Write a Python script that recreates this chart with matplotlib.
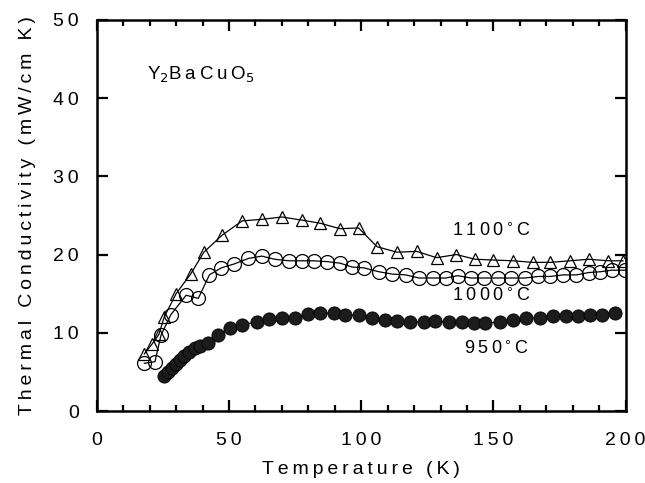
import matplotlib.pyplot as plt
from matplotlib.ticker import MultipleLocator

plt.rcParams["font.family"] = ["Liberation Sans", "DejaVu Sans"]

# 1100 C sample (open triangles)
t_1100 = [18, 21, 23.5, 25.5, 30, 35.5, 40.5, 47.5, 55, 62.5, 70, 77.5, 84.5,
          92, 99, 106, 113.5, 121, 128.5, 136, 143, 150, 157.5, 165, 171.5,
          179, 186, 193.5, 199]
k_1100 = [7.3, 8.6, 9.8, 12.0, 15.0, 17.5, 20.3, 22.5, 24.3, 24.5, 24.8, 24.4,
          24.0, 23.3, 23.4, 21.0, 20.3, 20.4, 19.6, 20.0, 19.4, 19.3, 19.2,
          19.0, 19.0, 19.2, 19.4, 19.2, 19.2]

# 1000 C sample (open circles)
t_1000 = [18, 22, 24.3, 28, 33.8, 38.4, 42.6, 47.1, 52, 57.3, 62.4, 67.3, 72.6,
          77.5, 82, 87, 92, 96.6, 101, 106.7, 111.8, 116.8, 121.9, 127, 132,
          136.5, 141.5, 146.6, 151.7, 156.5, 161.9, 167, 171.4, 176.4, 181.4,
          186, 190.4, 194.7, 199.9]
k_1000 = [6.1, 6.3, 9.7, 12.3, 14.8, 14.4, 17.4, 18.3, 18.8, 19.5, 19.8, 19.4,
          19.2, 19.2, 19.2, 19.1, 18.9, 18.4, 18.3, 17.8, 17.5, 17.4, 17.0,
          17.0, 17.0, 17.3, 17.0, 17.0, 17.0, 17.0, 17.0, 17.2, 17.2, 17.4,
          17.4, 17.7, 17.8, 18.0, 18.0]

# 950 C sample (filled circles)
t_950 = [25.5, 27, 28.5, 30, 31.5, 33, 35, 37, 39, 42, 46, 50.2, 54.8, 60.5,
         65, 70, 75, 80, 84.5, 89.6, 94, 99, 104, 109, 113.7, 118.6, 123.8,
         128, 133.3, 138, 142.8, 147, 152.3, 157.4, 162.4, 167.6, 172.6, 177.6,
         182, 186.6, 190.9, 196]
k_950 = [4.5, 5.0, 5.5, 6.0, 6.5, 7.0, 7.5, 8.0, 8.3, 8.7, 9.7, 10.6, 11.0,
         11.4, 11.8, 11.9, 11.9, 12.4, 12.5, 12.5, 12.3, 12.3, 11.9, 11.6,
         11.5, 11.4, 11.4, 11.5, 11.4, 11.4, 11.2, 11.2, 11.4, 11.6, 11.9,
         11.9, 12.1, 12.1, 12.1, 12.3, 12.3, 12.5]

x_ticks = [0, 50, 100, 150, 200]
y_ticks = [0, 10, 20, 30, 40, 50]


def spaced(s):
    # the original typesetting has wide letter spacing
    return "\u2009".join(s)


fig = plt.figure(figsize=(6.45, 4.83), dpi=100)
ax = fig.add_axes([0.150, 0.149, 0.820, 0.810])

ax.plot(t_1100, k_1100, color="black", lw=0.9, marker="^", ms=8.5,
        mfc="none", mec="black", mew=0.9)
ax.plot(t_1000, k_1000, color="black", lw=0.9, marker="o", ms=10,
        mfc="none", mec="black", mew=0.9)
ax.plot(t_950, k_950, color="black", lw=0.9, marker="o", ms=9.5,
        mfc="#1c1c1c", mec="black", mew=0.6)

ax.set_xlim(0, 200)
ax.set_ylim(0, 50)
ax.set_xticks(x_ticks)
ax.set_xticklabels([spaced(str(v)) for v in x_ticks])
ax.set_yticks(y_ticks)
ax.set_yticklabels([spaced(str(v)) for v in y_ticks])
ax.xaxis.set_minor_locator(MultipleLocator(10))

ax.tick_params(axis="both", which="both", direction="in", top=True, right=True,
               width=1.6, labelsize=14)
ax.tick_params(axis="x", which="major", length=8, pad=15)
ax.tick_params(axis="x", which="minor", length=4.5)
ax.tick_params(axis="y", which="major", length=8, pad=13)
for sp in ax.spines.values():
    sp.set_linewidth(1.8)

ax.set_xlabel(spaced("Temperature (K)"), fontsize=14, labelpad=9)
ax.set_ylabel(spaced("Thermal Conductivity (mW/cm K)"), fontsize=14,
              labelpad=12)

ax.text(19, 43, r"Y$_2$" + spaced("BaCuO") + r"$_5$", fontsize=13.5,
        va="center", ha="left")
ax.text(149, 23, spaced("1100") + r"$^\circ$" + "C", fontsize=13,
        ha="center", va="center")
ax.text(149, 14.6, spaced("1000") + r"$^\circ$" + "C", fontsize=13,
        ha="center", va="center")
ax.text(151, 7.9, spaced("950") + r"$^\circ$" + "C", fontsize=13,
        ha="center", va="center")

fig.savefig("out.png", dpi=100)
